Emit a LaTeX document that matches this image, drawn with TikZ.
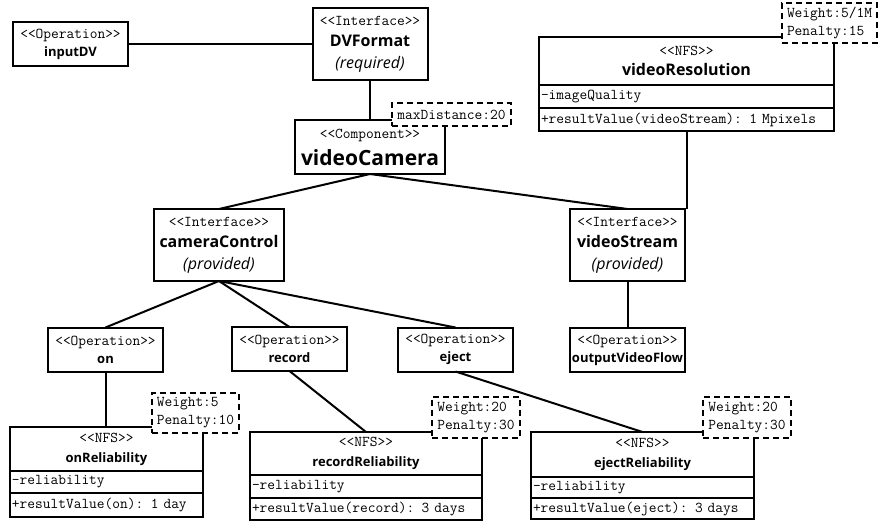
\documentclass[tikz,border=0pt]{standalone}
\usepackage{fontspec}
\newfontfamily\namefont{Open Sans}
\usetikzlibrary{positioning}

\newcommand{\stype}[1]{{\ttfamily\fontsize{15}{18}\selectfont{<}{<}#1{>}{>}}}
\newcommand{\bigname}[1]{{\namefont\bfseries\fontsize{16}{21}\selectfont #1}}
\newcommand{\smallname}[1]{{\namefont\bfseries\fontsize{13}{18}\selectfont #1}}
\newcommand{\kind}[1]{{\namefont\itshape\fontsize{16}{21}\selectfont (#1)}}

\tikzset{
  box/.style={draw, line width=2pt, fill=white, align=center, inner sep=0pt,
    outer sep=0pt},
  op/.style={box, minimum width=115pt, minimum height=44pt,
    font=\fontsize{15}{18}\selectfont},
  iface/.style={box, minimum width=#1, minimum height=72pt,
    font=\fontsize{15}{21.5}\selectfont},
  comp/.style={box, minimum width=150pt, minimum height=54pt,
    font=\fontsize{15}{27}\selectfont},
  nfshead/.style={box, minimum height=#1, font=\fontsize{15}{20}\selectfont},
  nfsrow/.style={box, align=left, inner xsep=2pt, minimum height=#1,
    font=\ttfamily\fontsize{15}{18}\selectfont},
  note/.style={draw, line width=2pt, dash pattern=on 6pt off 4pt, fill=white,
    align=left, inner sep=0pt, outer sep=0pt,
    font=\ttfamily\fontsize{15}{18}\selectfont},
  line/.style={line width=2pt}
}

\begin{document}
\begin{tikzpicture}[x=1pt,y=-1pt]
  \useasboundingbox (0,0) rectangle (879,523);

  % top row
  \node[op] (inputDV) at (70.5,44) {\stype{Operation}\\\smallname{inputDV}};
  \node[iface=115pt] (DVFormat) at (370,44)
    {\stype{Interface}\\\bigname{DVFormat}\\\kind{required}};
  \node[comp] (videoCamera) at (370,147)
    {\stype{Component}\\{\namefont\bfseries\fontsize{21}{27}\selectfont videoCamera}};

  % video resolution
  \node[nfshead=48pt, minimum width=295pt] (videoRes) at (686.5,61)
    {\stype{NFS}\\\bigname{videoResolution}};
  \node[nfsrow=23pt, text width=291pt, anchor=north west] (videoRes-a)
    at (videoRes.south west) {-imageQuality};
  \node[nfsrow=23pt, text width=291pt, anchor=north west] (videoRes-b)
    at (videoRes-a.south west) {+resultValue(videoStream): 1 Mpixels};

  % interfaces
  \node[iface=130pt] (cameraControl) at (219,245)
    {\stype{Interface}\\\bigname{cameraControl}\\\kind{provided}};
  \node[iface=115pt] (videoStream) at (627.5,245)
    {\stype{Interface}\\\bigname{videoStream}\\\kind{provided}};

  % operations
  \node[op] (on) at (105.5,349.5) {\stype{Operation}\\\smallname{on}};
  \node[op] (record) at (289.5,349) {\stype{Operation}\\\smallname{record}};
  \node[op] (eject) at (455.5,349.5) {\stype{Operation}\\\smallname{eject}};
  \node[op] (outputVideoFlow) at (627.5,350)
    {\stype{Operation}\\\smallname{outputVideoFlow}};

  % reliability requirements
  \node[nfshead=44pt, minimum width=193pt] (onRel) at (106.5,449)
    {\stype{NFS}\\\smallname{onReliability}};
  \node[nfsrow=22pt, text width=189pt, anchor=north west] (onRel-a)
    at (onRel.south west) {-reliability};
  \node[nfsrow=24pt, text width=189pt, anchor=north west] (onRel-b)
    at (onRel-a.south west) {+resultValue(on): 1 day};

  \node[nfshead=43pt, minimum width=232pt] (recordRel) at (366,453.5)
    {\stype{NFS}\\\smallname{recordReliability}};
  \node[nfsrow=23pt, text width=228pt, anchor=north west] (recordRel-a)
    at (recordRel.south west) {-reliability};
  \node[nfsrow=22pt, text width=228pt, anchor=north west] (recordRel-b)
    at (recordRel-a.south west) {+resultValue(record): 3 days};

  \node[nfshead=45pt, minimum width=223pt] (ejectRel) at (642.5,454.5)
    {\stype{NFS}\\\smallname{ejectReliability}};
  \node[nfsrow=21pt, text width=219pt, anchor=north west] (ejectRel-a)
    at (ejectRel.south west) {-reliability};
  \node[nfsrow=21pt, text width=219pt, anchor=north west] (ejectRel-b)
    at (ejectRel-a.south west) {+resultValue(eject): 3 days};

  % connectors
  \draw[line] (inputDV) -- (DVFormat);
  \draw[line] (DVFormat) -- (videoCamera);
  \draw[line] (videoCamera.south) -- (cameraControl.north);
  \draw[line] (videoCamera.south) -- (videoStream.north);
  \draw[line] (videoRes-b.south) -- (videoRes-b.south |- videoStream.north);
  \draw[line] (cameraControl.south) -- (on.north);
  \draw[line] (cameraControl.south) -- (record.north);
  \draw[line] (cameraControl.south) -- (eject.north);
  \draw[line] (videoStream) -- (outputVideoFlow);
  \draw[line] (on) -- (on |- onRel.north);
  \draw[line] (record.south) -- (recordRel.north);
  \draw[line] (eject.south) -- (ejectRel.north);

  % notes
  \node[note, minimum width=119pt, minimum height=23pt] (maxDist)
    at (451.5,114.5) {maxDistance:20};
  \node[note, minimum width=95pt, minimum height=40pt] (resNote)
    at (829.5,23) {Weight:5/1M\\Penalty:15};
  \node[note, minimum width=87pt, minimum height=40pt] (onNote)
    at (195.5,413) {Weight:5\\Penalty:10};
  \node[note, minimum width=88pt, minimum height=41pt] (recordNote)
    at (476,417.5) {Weight:20\\Penalty:30};
  \node[note, minimum width=88pt, minimum height=41pt] (ejectNote)
    at (747,417.5) {Weight:20\\Penalty:30};
\end{tikzpicture}
\end{document}
